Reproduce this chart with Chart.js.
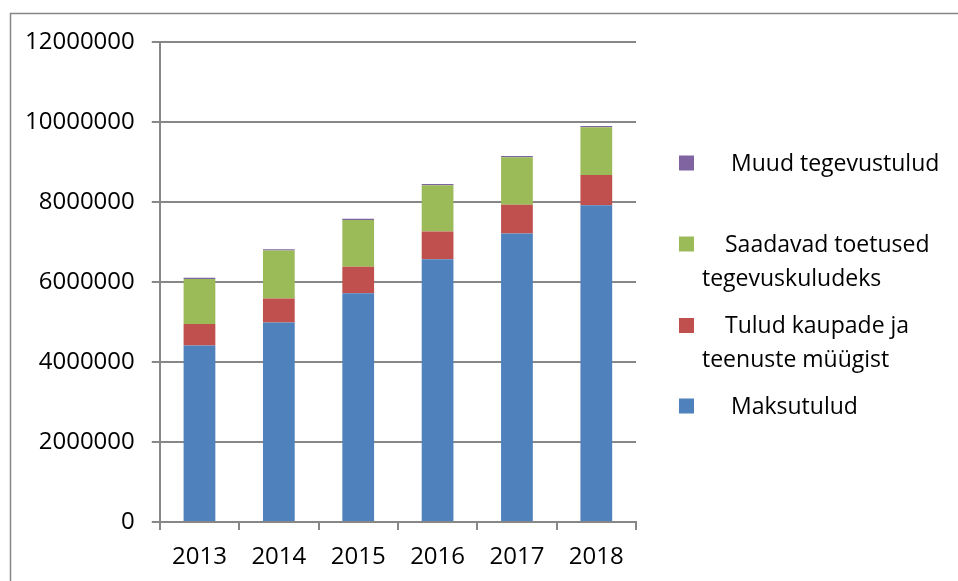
<!DOCTYPE html>
<html>
<head>
<meta charset="utf-8">
<script src="https://cdn.jsdelivr.net/npm/chart.js@4.4.0/dist/chart.umd.min.js"></script>
<style>
  html, body { margin: 0; padding: 0; background: #fff; }
  #wrap { width: 958px; height: 581px; }
</style>
</head>
<body>
<div id="wrap"><canvas id="revenueChart"></canvas></div>
<script>
// Years and revenue series (EUR)
const years = ['2013', '2014', '2015', '2016', '2017', '2018'];
const maksutulud = [4410000, 4990000, 5720000, 6570000, 7210000, 7920000];
const tuludMyygist = [540000, 600000, 660000, 690000, 720000, 755000];
const toetused = [1125000, 1200000, 1170000, 1160000, 1190000, 1195000];
const muudTulud = [30000, 30000, 30000, 30000, 30000, 30000];
const yTicks = [0, 2000000, 4000000, 6000000, 8000000, 10000000, 12000000];

// Legend text as it wraps in the original
const legendLines = [
    ['Maksutulud'],
    ['Tulud kaupade ja', 'teenuste müügist'],
    ['Saadavad toetused', 'tegevuskuludeks'],
    ['Muud tegevustulud']
];

const gridGray = '#878787';
const fontFamily = '"Open Sans", "Noto Sans", sans-serif';

// White background and the outer frame
const framePlugin = {
    id: 'frame',
    beforeDraw(chart) {
        const ctx = chart.ctx;
        ctx.save();
        ctx.fillStyle = '#fff';
        ctx.fillRect(0, 0, chart.width, chart.height);
        ctx.strokeStyle = gridGray;
        ctx.lineWidth = 1.5;
        ctx.beginPath();
        ctx.moveTo(10.5, chart.height);
        ctx.lineTo(10.5, 13.5);
        ctx.lineTo(chart.width, 13.5);
        ctx.stroke();
        ctx.restore();
    }
};

// Legend drawn on the right, top item = last series
const sideLegend = {
    id: 'sideLegend',
    afterDraw(chart) {
        const ctx = chart.ctx;
        const rows = [406, 325.5, 244, 163];
        ctx.save();
        ctx.font = '23px ' + fontFamily;
        ctx.textBaseline = 'middle';
        chart.data.datasets.forEach((ds, i) => {
            const y = rows[i];
            ctx.fillStyle = ds.backgroundColor;
            ctx.fillRect(679, y - 7.5, 15, 15);
            ctx.fillStyle = '#000';
            const lines = legendLines[i];
            if (lines.length === 1) {
                ctx.fillText(lines[0], 731, y + 1);
            } else {
                ctx.fillText(lines[0], 725, y + 1);
                ctx.fillText(lines[1], 702, y + 35);
            }
        });
        ctx.restore();
    }
};

function initializeChart() {
    const ctx = document.getElementById('revenueChart').getContext('2d');
    window.revenueChart = new Chart(ctx, {
        type: 'bar',
        data: {
            labels: years,
            datasets: [
                { label: 'Maksutulud', data: maksutulud, backgroundColor: '#4F81BD' },
                { label: 'Tulud kaupade ja teenuste müügist', data: tuludMyygist, backgroundColor: '#C0504D' },
                { label: 'Saadavad toetused tegevuskuludeks', data: toetused, backgroundColor: '#9BBB59' },
                { label: 'Muud tegevustulud', data: muudTulud, backgroundColor: '#8064A2' }
            ]
        },
        options: {
            responsive: true,
            maintainAspectRatio: false,
            animation: false,
            datasets: {
                bar: { barPercentage: 0.4, categoryPercentage: 1.0, borderWidth: 0 }
            },
            layout: {
                padding: { left: 8, right: 322, top: 42, bottom: -3 }
            },
            plugins: {
                legend: { display: false },
                tooltip: { enabled: false }
            },
            scales: {
                x: {
                    stacked: true,
                    grid: {
                        offset: true,
                        drawOnChartArea: false,
                        drawTicks: true,
                        tickLength: 8,
                        color: gridGray,
                        lineWidth: 2
                    },
                    border: { color: gridGray, width: 2 },
                    ticks: {
                        color: '#000',
                        padding: 15,
                        font: { family: fontFamily, size: 24, lineHeight: 1 }
                    }
                },
                y: {
                    stacked: true,
                    min: 0,
                    max: 12000000,
                    afterBuildTicks(scale) {
                        scale.ticks = yTicks.map(v => ({ value: v }));
                    },
                    grid: {
                        color: gridGray,
                        lineWidth: 2,
                        tickLength: 8
                    },
                    border: { color: gridGray, width: 2 },
                    ticks: {
                        color: '#000',
                        padding: 17,
                        callback: v => String(v),
                        font: { family: fontFamily, size: 24 }
                    }
                }
            }
        },
        plugins: [framePlugin, sideLegend]
    });
}

document.addEventListener('DOMContentLoaded', initializeChart);
</script>
</body>
</html>
